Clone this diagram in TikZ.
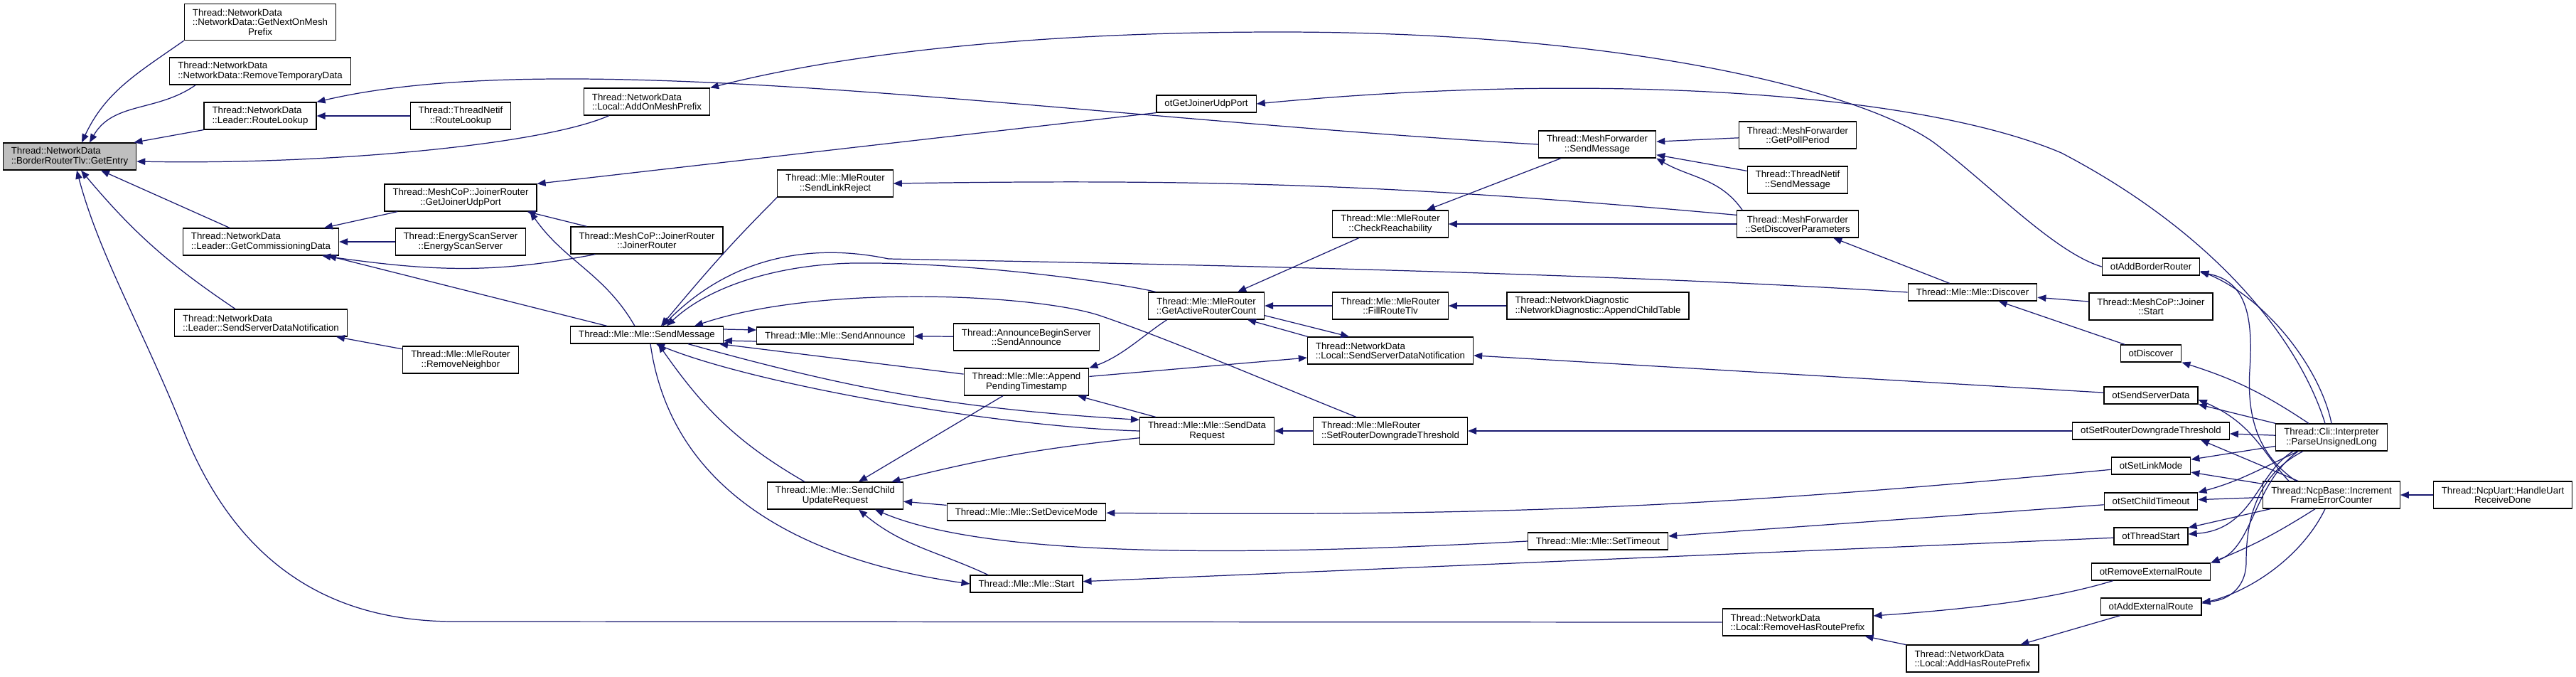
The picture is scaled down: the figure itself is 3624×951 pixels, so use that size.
\documentclass[tikz,border=0pt]{standalone}
\usepackage{fontspec}
\setmainfont{Liberation Sans}
\usetikzlibrary{arrows.meta, calc}
\definecolor{dxblue}{HTML}{191970}
\definecolor{dxgrey}{HTML}{BFBFBF}
\tikzset{
  >={Triangle[length=2.4mm, width=1.9mm]},
  fn/.style={rectangle, draw=black, fill=white, line width=0.7pt, align=center,
             minimum height=0.48cm, inner xsep=0.23cm, inner ysep=0pt,
             font=\fontsize{7.55pt}{7.55pt}\selectfont},
  fn2/.style={fn, minimum height=0.76cm},
  fn3/.style={fn, minimum height=1.02cm},
  fnl/.style={fn2, align=left},
  fnroot/.style={fnl, fill=dxgrey},
  call/.style={->, line width=0.7pt, draw=dxblue},
}
\newcommand{\tnd}{Thread::NetworkData}

\begin{document}
\begin{tikzpicture}[x=0.02cm, y=-0.02cm]
  \useasboundingbox (0,0) rectangle (3624,951);
  \node[fnroot] (entry) at (98,220) {\tnd\\::BorderRouterTlv::GetEntry};
  \node[fn3] (nextmesh) at (366,31) {\rlap{\tnd}\phantom{::NetworkData::GetNextOnMesh}\\::NetworkData::GetNextOnMesh\\Prefix};
  \node[fnl] (remtemp) at (366,100) {\tnd\\::NetworkData::RemoveTemporaryData};
  \node[fnl] (ldrroute) at (366,163) {\tnd\\::Leader::RouteLookup};
  \node[fn2] (netifroute) at (648,163) {Thread::ThreadNetif\\::RouteLookup};
  \node[fnl] (addmesh) at (910,143) {\tnd\\::Local::AddOnMeshPrefix};
  \node[fn2] (joinport) at (648,278) {Thread::MeshCoP::JoinerRouter\\::GetJoinerUdpPort};
  \node[fn2] (joinrtr) at (910,338) {Thread::MeshCoP::JoinerRouter\\::JoinerRouter};
  \node[fnl] (commdata) at (367,340) {\tnd\\::Leader::GetCommissioningData};
  \node[fn2] (energy) at (648,340) {Thread::EnergyScanServer\\::EnergyScanServer};
  \node[fnl] (ldrssdn) at (367,454) {\tnd\\::Leader::SendServerDataNotification};
  \node[fn2] (remneigh) at (648,506) {Thread::Mle::MleRouter\\::RemoveNeighbor};
  \node[fn] (mlesend) at (910,471) {Thread::Mle::Mle::SendMessage};
  \node[fn] (otjoinport) at (1697,146) {otGetJoinerUdpPort};
  \node[fn2] (linkreject) at (1175,258) {Thread::Mle::MleRouter\\::SendLinkReject};
  \node[fn2] (activecnt) at (1697,430) {Thread::Mle::MleRouter\\::GetActiveRouterCount};
  \node[fn] (mleannounce) at (1175,472) {Thread::Mle::Mle::SendAnnounce};
  \node[fn2] (beginannounce) at (1444,474) {Thread::AnnounceBeginServer\\::SendAnnounce};
  \node[fn2] (appendts) at (1444,537) {Thread::Mle::Mle::Append\\PendingTimestamp};
  \node[fn2] (datareq) at (1698,606) {Thread::Mle::Mle::SendData\\Request};
  \node[fn2] (childupd) at (1175,697) {Thread::Mle::Mle::SendChild\\UpdateRequest};
  \node[fn] (devmode) at (1444,720) {Thread::Mle::Mle::SetDeviceMode};
  \node[fn] (mlestart) at (1444,821) {Thread::Mle::Mle::Start};
  \node[fn2] (fwdsend) at (2247,203) {Thread::MeshForwarder\\::SendMessage};
  \node[fn2] (pollperiod) at (2529,190) {Thread::MeshForwarder\\::GetPollPeriod};
  \node[fn2] (netifsend) at (2529,253) {Thread::ThreadNetif\\::SendMessage};
  \node[fn2] (reach) at (1956,315) {Thread::Mle::MleRouter\\::CheckReachability};
  \node[fn2] (discparam) at (2529,315) {Thread::MeshForwarder\\::SetDiscoverParameters};
  \node[fn2] (fillroute) at (1956,430) {Thread::Mle::MleRouter\\::FillRouteTlv};
  \node[fnl] (childtable) at (2248,430) {Thread::NetworkDiagnostic\\::NetworkDiagnostic::AppendChildTable};
  \node[fn] (discover) at (2775,411) {Thread::Mle::Mle::Discover};
  \node[fnl] (localssdn) at (1956,493) {\tnd\\::Local::SendServerDataNotification};
  \node[fnl] (rtrdown) at (1956,606) {Thread::Mle::MleRouter\\::SetRouterDowngradeThreshold};
  \node[fn] (settimeout) at (2248,761) {Thread::Mle::Mle::SetTimeout};
  \node[fnl] (remroute) at (2529,875) {\tnd\\::Local::RemoveHasRoutePrefix};
  \node[fnl] (addroute) at (2775,926) {\tnd\\::Local::AddHasRoutePrefix};
  \node[fn] (otaddbr) at (3026,375) {otAddBorderRouter};
  \node[fn2] (joinerstart) at (3026,431) {Thread::MeshCoP::Joiner\\::Start};
  \node[fn] (otdiscover) at (3026,497) {otDiscover};
  \node[fn] (otsenddata) at (3026,556) {otSendServerData};
  \node[fn] (otrtrdown) at (3026,606) {otSetRouterDowngradeThreshold};
  \node[fn] (otlinkmode) at (3026,655) {otSetLinkMode};
  \node[fn] (otchildto) at (3026,705) {otSetChildTimeout};
  \node[fn] (otstart) at (3026,754) {otThreadStart};
  \node[fn] (otremroute) at (3026,804) {otRemoveExternalRoute};
  \node[fn] (otaddroute) at (3026,853) {otAddExternalRoute};
  \node[fn2] (parse) at (3280,615) {Thread::Cli::Interpreter\\::ParseUnsignedLong};
  \node[fn2] (ncpcount) at (3280,696) {Thread::NcpBase::Increment\\FrameErrorCounter};
  \node[fn2] (uartdone) at (3521,696) {Thread::NcpUart::HandleUart\\ReceiveDone};

  \draw[call] (nextmesh.south west) to[out=215,in=65] ($(entry.north)+(17,0)$);
  \draw[call] ($(remtemp.south west)+(37,0)$) to[out=215,in=60] ($(entry.north)+(28,0)$);
  \draw[call] (ldrroute.south west) -- ($(entry.north east)+(-4,0)$);
  \draw[call] ($(addmesh.south west)+(36,0)$) .. controls (760,205) and (450,232) .. ($(entry.east)+(0,7)$);
  \draw[call] (commdata) -- (entry);
  \draw[call] ($(ldrssdn.north)+(-36,0)$) to[bend left=8] ($(entry.south)+(16,0)$);
  \draw[call] (remroute.west) -- (640,874) .. controls (450,874) and (330,780) .. (260,610) .. controls (200,460) and (140,360) .. ($(entry.south)+(10,0)$);

  \draw[call] (netifroute) -- (ldrroute);
  \draw[call] (fwdsend.west) .. controls (1500,165) and (800,60) .. (ldrroute.north east);
  \draw[call] (otaddbr.west) .. controls (2890,355) and (2800,260) .. (2720,200) .. controls (2620,130) and (2300,45) .. (1800,45) .. controls (1400,45) and (1150,85) .. (addmesh.north east);
  \draw[call] (otjoinport.south west) -- (joinport.north east);
  \draw[call] ($(parse.north)+(-9,0)$) .. controls (3235,480) and (3120,330) .. (2900,215) .. controls (2700,130) and (2250,100) .. (otjoinport.east);

  \draw[call] (parse.north) .. controls (3265,520) and (3190,420) .. ($(otaddbr.east)+(0,6)$);
  \draw[call] ($(ncpcount.north)+(-50,0)$) .. controls (3185,645) and (3160,600) .. (3165,520) .. controls (3170,445) and (3160,395) .. ($(otaddbr.east)+(0,8)$);
  \draw[call] ($(parse.north)+(-32,0)$) to[bend right=8] (otdiscover.south east);
  \draw[call] (parse.north west) -- (otsenddata.south east);
  \draw[call] ($(ncpcount.north)+(-60,0)$) .. controls (3185,640) and (3170,595) .. ($(otsenddata.east)+(0,6)$);
  \draw[call] (parse) -- (otrtrdown);
  \draw[call] ($(ncpcount.north)+(-47,0)$) -- ($(otrtrdown.south east)+(-41,0)$);
  \draw[call] (parse) -- (otlinkmode);
  \draw[call] (ncpcount) -- (otlinkmode);
  \draw[call] ($(parse.south)+(-47,0)$) to[out=205,in=15] (otchildto.north east);
  \draw[call] (ncpcount) -- (otchildto);
  \draw[call] ($(parse.south)+(-54,0)$) .. controls (3175,665) and (3170,745) .. ($(otstart.east)+(0,-3)$);
  \draw[call] (ncpcount) -- (otstart);
  \draw[call] ($(parse.south)+(-47,0)$) .. controls (3170,680) and (3170,770) .. (otremroute.north east);
  \draw[call] ($(ncpcount.south)+(-23,0)$) to[bend left=5] (otremroute.north east);
  \draw[call] ($(parse.south)+(-40,0)$) .. controls (3170,670) and (3160,740) .. (3160,790) .. controls (3160,830) and (3130,845) .. ($(otaddroute.north east)+(0,6)$);
  \draw[call] ($(ncpcount.south)+(-9,0)$) .. controls (3240,780) and (3170,830) .. ($(otaddroute.north east)+(0,8)$);
  \draw[call] (uartdone) -- (ncpcount);

  \draw[call] (otdiscover) -- (discover);
  \draw[call] (joinerstart) -- (discover);
  \draw[call] (discover) -- (discparam);
  \draw[call] (discover.west) .. controls (2200,380) and (1450,368) .. (1250,364) .. controls (1160,345) and (1040,350) .. ($(mlesend.north)+(22,0)$);
  \draw[call] (otsenddata) -- (localssdn);
  \draw[call] (otrtrdown) -- (rtrdown);
  \draw[call] (otlinkmode) to[bend left=3] (devmode);
  \draw[call] (otchildto) -- (settimeout);
  \draw[call] (otstart) -- (mlestart);
  \draw[call] ($(otremroute.south west)+(31,0)$) .. controls (2880,845) and (2760,857) .. ($(remroute.east)+(0,-9)$);
  \draw[call] (otaddroute) -- (addroute);
  \draw[call] (addroute) -- (remroute);

  \draw[call] (pollperiod) -- (fwdsend);
  \draw[call] (netifsend) -- (fwdsend);
  \draw[call] ($(discparam.north west)+(8,0)$) to[out=125,in=-30] (fwdsend.south east);
  \draw[call] (discparam) -- (reach);
  \draw[call] ($(discparam.north west)+(0,7)$) to[bend right=3] (linkreject.east);
  \draw[call] (fwdsend) -- (reach);
  \draw[call] (reach) -- (activecnt);
  \draw[call] (fillroute) -- (activecnt);
  \draw[call] (childtable) -- (fillroute);
  \draw[call] ($(activecnt.south east)+(0,-6)$) -- ($(localssdn.north)+(-58,0)$);
  \draw[call] ($(localssdn.north west)+(1,0)$) -- ($(activecnt.south)+(58,0)$);
  \draw[call] (appendts) -- (localssdn);
  \draw[call] ($(activecnt.south west)+(27,0)$) .. controls (1610,470) and (1580,500) .. (appendts.north east);
  \draw[call] ($(activecnt.north west)+(11,0)$) .. controls (1560,395) and (1350,368) .. (1200,370) .. controls (1100,372) and (1000,400) .. ($(mlesend.north)+(28,0)$);
  \draw[call] ($(rtrdown.north west)+(61,0)$) .. controls (1780,535) and (1640,475) .. (1545,443) .. controls (1450,413) and (1150,400) .. ($(mlesend.north east)+(-41,0)$);
  \draw[call] (rtrdown) -- (datareq);
  \draw[call] ($(mlesend.east)+(0,-8)$) -- ($(mleannounce.west)+(0,-8)$);
  \draw[call] ($(mleannounce.west)+(0,8)$) -- ($(mlesend.east)+(0,8)$);
  \draw[call] (beginannounce) -- (mleannounce);
  \draw[call] (appendts) -- (mlesend);
  \draw[call] ($(mlesend.south east)+(-50,0)$) to[bend right=6] ($(datareq.north west)+(0,4)$);
  \draw[call] (datareq.west) .. controls (1400,600) and (1060,540) .. ($(mlesend.south)+(13,0)$);
  \draw[call] ($(childupd.north)+(-43,0)$) to[out=150,in=-55] ($(mlesend.south)+(16,0)$);
  \draw[call] ($(mlesend.south)+(5,0)$) to[out=-82,in=172] (mlestart.west);
  \draw[call] (appendts) -- (childupd);
  \draw[call] (datareq) -- (appendts);
  \draw[call] (datareq) to[bend right=4] (childupd);
  \draw[call] (devmode) -- (childupd);
  \draw[call] (settimeout.west) .. controls (1700,785) and (1380,780) .. ($(childupd.south)+(56,0)$);
  \draw[call] ($(mlestart.north)+(-54,0)$) to[out=155,in=-40] ($(childupd.south)+(33,0)$);

  \draw[call] (joinport) -- (commdata);
  \draw[call] (energy) -- (commdata);
  \draw[call] ($(joinrtr.south west)+(35,0)$) to[out=191,in=-8] ($(commdata.south east)+(-24,0)$);
  \draw[call] ($(mlesend.north)+(-56,0)$) -- ($(commdata.south east)+(-16,0)$);
  \draw[call] ($(joinrtr.north west)+(23,0)$) -- ($(joinport.south east)+(-14,0)$);
  \draw[call] ($(mlesend.north)+(-17,0)$) to[out=120,in=-55] ($(joinport.south east)+(-10,0)$);
  \draw[call] (remneigh) -- (ldrssdn);
  \draw[call] (linkreject.south west) to[out=225,in=50] ($(mlesend.north)+(20,0)$);
\end{tikzpicture}
\end{document}
